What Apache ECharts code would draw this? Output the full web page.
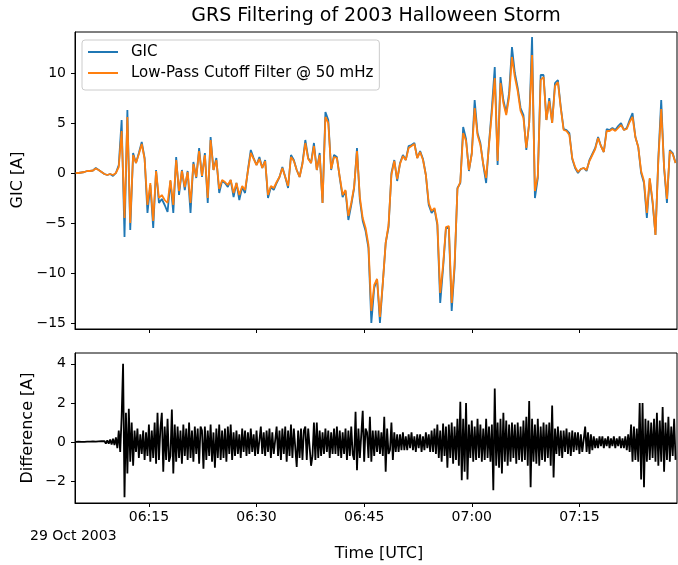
<!DOCTYPE html>
<html>
<head>
<meta charset="utf-8">
<title>GRS Filtering of 2003 Halloween Storm</title>
<script src="https://cdn.jsdelivr.net/npm/echarts@6/dist/echarts.min.js"></script>
<style>
  html, body { margin: 0; padding: 0; background: #fff; }
  #chart { width: 678px; height: 565px; }
</style>
</head>
<body>
<div id="chart"></div>
<script>
// samples, minutes after 06:00 UTC on 29 Oct 2003
var topStart = 4.8, topStep = 0.4;
var diffStart = 4.8, diffStep = 0.2;

var gic = [
  0.0, 0.0, 0.05, 0.1, 0.2, 0.2, 0.25, 0.5, 0.3, 0.1,
  -0.1, -0.2, -0.1, -0.3, 0.0, 0.8, 5.3, -6.4, 6.3, -5.7,
  2.0, 1.0, 2.0, 3.1, 1.5, -4.0, -1.2, -5.5, 0.3, -3.0,
  -2.6, -3.2, -3.9, -0.8, -4.0, 1.6, -2.2, 0.3, -1.7, 0.2,
  -4.0, 1.1, -0.5, 2.5, -0.4, 2.0, -3.0, 3.6, 0.3, 1.5,
  -2.0, -0.8, -1.0, -1.4, -0.7, -2.4, -1.0, -2.7, -1.4, -2.0,
  0.3, 2.3, 1.5, 0.8, 1.6, 0.5, 1.3, -2.5, -1.4, -1.7,
  -1.0, -0.4, 0.6, -0.4, -1.5, 1.8, 1.3, 0.3, -0.4, 1.0,
  3.3, 1.5, 1.0, 3.0, 0.3, 2.0, -3.0, 6.1, 5.3, 0.3,
  1.8, 1.6, -0.5, -2.4, -1.8, -4.7, -3.2, -1.5, 2.5, -2.7,
  -4.8, -5.8, -7.5, -15.0, -11.5, -10.6, -15.0, -11.0, -7.0, -5.4,
  0.0, 1.3, -0.8, 1.0, 1.8, 1.3, 2.7, 2.8, 3.0, 1.5,
  2.2, 1.4, -0.2, -3.2, -4.0, -3.6, -5.2, -13.0, -9.5, -5.5,
  -5.5, -13.8, -9.5, -1.5, -1.0, 4.6, 3.4, 0.2, 2.0, 7.3,
  4.0, 3.0, 0.8, -1.0, 3.0, 6.5, 10.6, 0.8, 9.6, 7.3,
  6.0, 8.0, 12.6, 10.0, 8.5, 6.5, 5.8, 2.3, 5.0, 13.6,
  -2.5, -0.5, 9.8, 9.8, 5.3, 7.5, 5.0, 9.0, 9.3, 6.6,
  4.4, 4.3, 4.0, 1.4, 0.5, 0.0, 0.4, 0.5, 0.2, 1.3,
  1.9, 2.5, 3.6, 2.7, 2.1, 4.4, 4.3, 4.5, 4.3, 4.7,
  5.0, 4.3, 4.5, 5.3, 6.0, 3.6, 2.6, 0.0, -1.0, -4.5,
  -0.6, -3.0, -6.2, 1.5, 7.3, 0.5, -3.0, 2.3, 2.0, 1.0
];

var lowPass = [
  0.0, 0.0, 0.05, 0.1, 0.2, 0.2, 0.25, 0.45, 0.3, 0.1,
  -0.1, -0.2, -0.1, -0.2, 0.0, 0.6, 4.2, -4.5, 5.6, -5.0,
  1.8, 1.0, 1.9, 2.9, 1.4, -3.2, -1.0, -4.8, 0.2, -2.5,
  -2.2, -2.7, -3.0, -0.7, -3.2, 1.3, -1.8, 0.2, -1.4, 0.1,
  -3.0, 0.9, -0.4, 2.2, -0.3, 1.8, -2.5, 3.3, 0.3, 1.3,
  -1.6, -0.7, -0.9, -1.2, -0.7, -2.0, -1.0, -2.2, -1.3, -1.7,
  0.2, 2.0, 1.4, 0.8, 1.4, 0.5, 1.2, -2.2, -1.3, -1.5,
  -0.9, -0.4, 0.5, -0.4, -1.3, 1.6, 1.2, 0.3, -0.4, 0.9,
  3.0, 1.4, 1.0, 2.7, 0.3, 1.8, -3.0, 5.6, 5.0, 0.4,
  1.6, 1.5, -0.4, -2.2, -1.7, -4.3, -3.0, -1.4, 2.2, -2.4,
  -4.5, -5.5, -7.2, -13.8, -11.2, -10.6, -14.4, -11.0, -7.0, -5.2,
  -0.2, 1.2, -0.6, 0.9, 1.7, 1.3, 2.5, 2.7, 2.9, 1.5,
  2.1, 1.3, -0.2, -3.0, -3.8, -3.5, -5.0, -12.0, -9.2, -5.4,
  -5.3, -13.0, -9.2, -1.6, -0.9, 4.0, 3.2, 0.3, 1.9, 6.5,
  3.8, 2.8, 0.9, -0.5, 2.8, 6.0, 9.5, 1.2, 9.0, 7.0,
  5.8, 7.6, 11.6, 9.6, 8.2, 6.2, 5.5, 2.5, 5.0, 11.8,
  -1.8, -0.3, 9.3, 9.6, 5.3, 7.2, 5.0, 8.7, 9.1, 6.5,
  4.3, 4.2, 3.8, 1.5, 0.6, 0.1, 0.4, 0.5, 0.3, 1.2,
  1.8, 2.4, 3.5, 2.7, 2.1, 4.2, 4.2, 4.4, 4.2, 4.5,
  4.8, 4.3, 4.4, 5.1, 5.6, 3.6, 2.6, 0.2, -0.8, -4.0,
  -0.5, -2.8, -6.2, 1.3, 6.4, 0.6, -2.6, 2.2, 1.9, 1.0
];

var difference = [
  0.02, -0.02, 0.03, -0.02, 0.02, -0.03, 0.02, -0.02, 0.03, -0.03,
  0.03, -0.02, 0.04, -0.03, 0.03, -0.04, 0.04, -0.03, 0.05, -0.04,
  0.06, -0.07, 0.1, -0.08, 0.14, -0.12, 0.18, -0.15, 0.25, -0.3,
  0.6, -0.5, 1.3, 4.0, -2.8, 1.5, -1.6, 1.7, -1.0, 1.0,
  -1.2, 0.6, -0.5, 0.7, -0.8, 0.4, -0.6, 0.6, -0.9, 0.5,
  -0.7, 0.9, -1.0, 0.6, -0.8, 1.0, -1.1, 1.5, -0.9, 0.7,
  1.5, -1.5, 0.8, -0.9, 1.2, -1.0, -0.7, 1.67, -1.6, 0.9,
  -1.0, 0.8, -0.8, 0.6, -1.1, 0.9, -0.7, 0.7, -0.9, 1.0,
  -0.8, 0.6, -1.0, 0.8, -0.6, 0.7, -1.1, 0.8, 0.6, -1.35,
  0.8, -0.9, 0.6, -0.7, 0.9, -1.0, 0.5, -1.3, 0.7, -0.8,
  0.9, -0.9, 0.6, -0.8, 0.7, -1.0, 0.8, -0.6, 0.9, -0.9,
  0.5, -0.7, 0.6, -0.6, 0.4, -0.8, 0.7, -0.5, 0.6, -0.7,
  0.5, -0.6, 0.7, -0.5, 0.4, -0.7, 0.6, -0.6, -0.5, 0.8,
  -0.6, 0.5, -0.7, 0.6, -0.5, 0.7, -0.8, 0.5, -0.6, -0.6,
  0.8, -0.7, 0.6, -0.9, 0.7, -0.6, 0.8, -1.0, 0.6, -0.7,
  0.9, -0.8, 0.7, 0.8, -1.26, 0.6, -0.8, 0.7, -0.9, 0.6,
  0.8, -0.9, 0.7, 0.6, -1.2, -0.7, 1.0, -0.9, 1.0, -0.8,
  0.6, -0.7, 0.5, -0.6, 0.7, -0.5, 0.6, -0.8, 0.5, -0.6,
  0.7, -0.6, 0.8, -0.7, 0.6, -0.8, 0.5, -0.6, 0.7, -0.9,
  0.6, -0.7, 0.8, -0.6, -0.9, 1.55, -1.43, 0.7, -0.8, -0.8,
  1.6, -1.0, 0.7, 0.5, -0.8, 1.3, -1.0, 0.6, -0.7, 0.6,
  -0.5, 0.6, -0.6, 0.5, -0.7, 1.3, -1.5, 0.7, -0.6, -0.4,
  1.0, -0.9, 0.5, -0.5, 0.4, -0.5, 0.4, -0.4, 0.5, -0.4,
  0.3, -0.4, 0.4, -0.3, 0.5, -0.4, 0.3, -0.5, 0.4, -0.3,
  0.4, -0.5, 0.3, -0.4, 0.5, -0.3, 0.4, -0.5, 0.6, -0.5,
  0.7, -0.6, 0.9, -0.8, 0.6, -1.0, 0.95, -0.7, 0.8, -1.3,
  0.9, -0.8, 1.0, -1.1, 0.8, -0.9, 1.2, -1.2, 2.06, -1.94,
  1.2, -1.5, 2.0, -1.9, 0.9, -0.8, 1.1, -1.0, 0.8, -0.9,
  1.2, -0.8, 0.9, -1.0, 0.7, -0.9, 1.2, -0.8, 0.8, -1.0,
  0.9, -2.45, 2.74, -1.2, 1.0, -1.3, 1.2, -1.6, 1.5, -1.0,
  1.1, -1.2, 0.9, -1.0, 1.0, -0.8, 0.9, -1.1, 1.0, -0.9,
  0.8, -1.0, 1.1, -0.9, 1.3, -1.2, 2.1, -2.3, 1.2, -1.0,
  0.9, -1.1, 1.2, -1.2, 0.8, -0.9, 1.0, -1.0, 0.9, -0.8,
  1.0, -1.2, 1.87, -1.8, 0.7, -0.6, 0.8, -0.7, 0.6, -0.8,
  0.6, -0.5, 0.7, -0.6, 0.5, -0.7, 0.6, -0.5, 0.5, -0.4,
  0.5, -0.6, 0.4, -0.5, -0.4, 0.8, -0.5, 0.5, -0.6, 0.4,
  -0.4, 0.3, -0.3, 0.2, -0.3, 0.3, -0.2, 0.3, -0.3, 0.2,
  -0.2, 0.3, -0.3, 0.2, -0.2, 0.3, -0.3, 0.2, -0.2, 0.3,
  -0.3, 0.2, -0.3, 0.3, -0.4, 0.4, -0.5, 0.9, -1.0, 0.8,
  -0.9, 0.7, -1.0, 2.0, -1.9, 2.0, -2.3, 1.2, -1.0, 1.1,
  -0.9, 1.0, -0.8, 1.2, -1.0, 1.5, -1.2, 1.1, -1.0, 1.8,
  -1.5, 1.0, -0.9, 1.3, -1.0, 0.8, -0.7, 1.2, -0.9
];

var timeTicks = [15, 30, 45, 60, 75];
var gicTicks = [-15, -10, -5, 0, 5, 10];
var diffTicks = [-2, 0, 2, 4];

function toPairs(vals, start, step) {
  return vals.map(function (v, i) { return [start + i * step, v]; });
}
function hhmm(m) {
  var h = 6 + Math.floor(m / 60), mm = Math.round(m % 60);
  return (h < 10 ? '0' : '') + h + ':' + (mm < 10 ? '0' : '') + mm;
}
function minus(v) { return String(v).replace('-', '\u2212'); }

var font = 'DejaVu Sans';
var chart = echarts.init(document.getElementById('chart'));

var option = {
  backgroundColor: '#fff',
  animation: false,
  textStyle: { fontFamily: font },
  grid: [
    { left: 75, right: 1, top: 32, height: 297, show: true, borderColor: '#000', borderWidth: 1 },
    { left: 75, right: 1, top: 353, height: 150, show: true, borderColor: '#000', borderWidth: 1 }
  ],
  legend: {
    left: 82, top: 40,
    orient: 'vertical',
    icon: 'rect',
    itemWidth: 30, itemHeight: 2,
    itemGap: 5,
    padding: [4, 6, 9, 6],
    backgroundColor: 'rgba(255,255,255,0.8)',
    borderColor: '#ccc', borderWidth: 1, borderRadius: 3,
    textStyle: { fontFamily: font, fontSize: 15, color: '#000', padding: [0, 0, 0, 8], lineHeight: 16 },
    data: ['GIC', 'Low-Pass Cutoff Filter @ 50 mHz']
  },
  xAxis: [
    {
      type: 'value', gridIndex: 0, min: 4.7, max: 88.6,
      axisLine: { onZero: false, lineStyle: { color: '#000' } },
      axisTick: { customValues: timeTicks, length: 4, lineStyle: { color: '#000' } },
      axisLabel: { show: false },
      splitLine: { show: false }
    },
    {
      type: 'value', gridIndex: 1, min: 4.7, max: 88.6,
      axisLine: { onZero: false, lineStyle: { color: '#000' } },
      axisTick: { customValues: timeTicks, length: 4, lineStyle: { color: '#000' } },
      axisLabel: { customValues: timeTicks, formatter: hhmm, fontSize: 14, color: '#000', margin: 7 },
      splitLine: { show: false }
    }
  ],
  yAxis: [
    {
      type: 'value', gridIndex: 0, min: -15.6, max: 14.1,
      axisLine: { show: true, onZero: false, lineStyle: { color: '#000' } },
      axisTick: { show: true, customValues: gicTicks, length: 4, lineStyle: { color: '#000' } },
      axisLabel: { customValues: gicTicks, formatter: minus, fontSize: 14, color: '#000', margin: 9 },
      splitLine: { show: false }
    },
    {
      type: 'value', gridIndex: 1, min: -3.1, max: 4.55,
      axisLine: { show: true, onZero: false, lineStyle: { color: '#000' } },
      axisTick: { show: true, customValues: diffTicks, length: 4, lineStyle: { color: '#000' } },
      axisLabel: { customValues: diffTicks, formatter: minus, fontSize: 14, color: '#000', margin: 9 },
      splitLine: { show: false }
    }
  ],
  series: [
    {
      name: 'GIC', type: 'line', xAxisIndex: 0, yAxisIndex: 0,
      showSymbol: false, color: '#1f77b4',
      lineStyle: { width: 1.8, color: '#1f77b4' },
      data: toPairs(gic, topStart, topStep)
    },
    {
      name: 'Low-Pass Cutoff Filter @ 50 mHz', type: 'line', xAxisIndex: 0, yAxisIndex: 0,
      showSymbol: false, color: '#ff7f0e',
      lineStyle: { width: 1.8, color: '#ff7f0e' },
      data: toPairs(lowPass, topStart, topStep)
    },
    {
      name: 'Difference', type: 'line', xAxisIndex: 1, yAxisIndex: 1,
      showSymbol: false, color: '#000',
      lineStyle: { width: 1.8, color: '#000' },
      data: toPairs(difference, diffStart, diffStep)
    }
  ],
  graphic: [
    { type: 'text', x: 376, y: 16, style: { text: 'GRS Filtering of 2003 Halloween Storm', font: '19px "DejaVu Sans"', fill: '#000', align: 'center', verticalAlign: 'middle' } },
    { type: 'text', x: 18, y: 180, rotation: Math.PI / 2, style: { text: 'GIC [A]', font: '16px "DejaVu Sans"', fill: '#000', align: 'center', verticalAlign: 'middle' } },
    { type: 'text', x: 28, y: 428, rotation: Math.PI / 2, style: { text: 'Difference [A]', font: '16px "DejaVu Sans"', fill: '#000', align: 'center', verticalAlign: 'middle' } },
    { type: 'text', x: 30, y: 536, style: { text: '29 Oct 2003', font: '14px "DejaVu Sans"', fill: '#000', align: 'left', verticalAlign: 'middle' } },
    { type: 'text', x: 379, y: 554, style: { text: 'Time [UTC]', font: '16px "DejaVu Sans"', fill: '#000', align: 'center', verticalAlign: 'middle' } }
  ]
};

chart.setOption(option);
</script>
</body>
</html>
